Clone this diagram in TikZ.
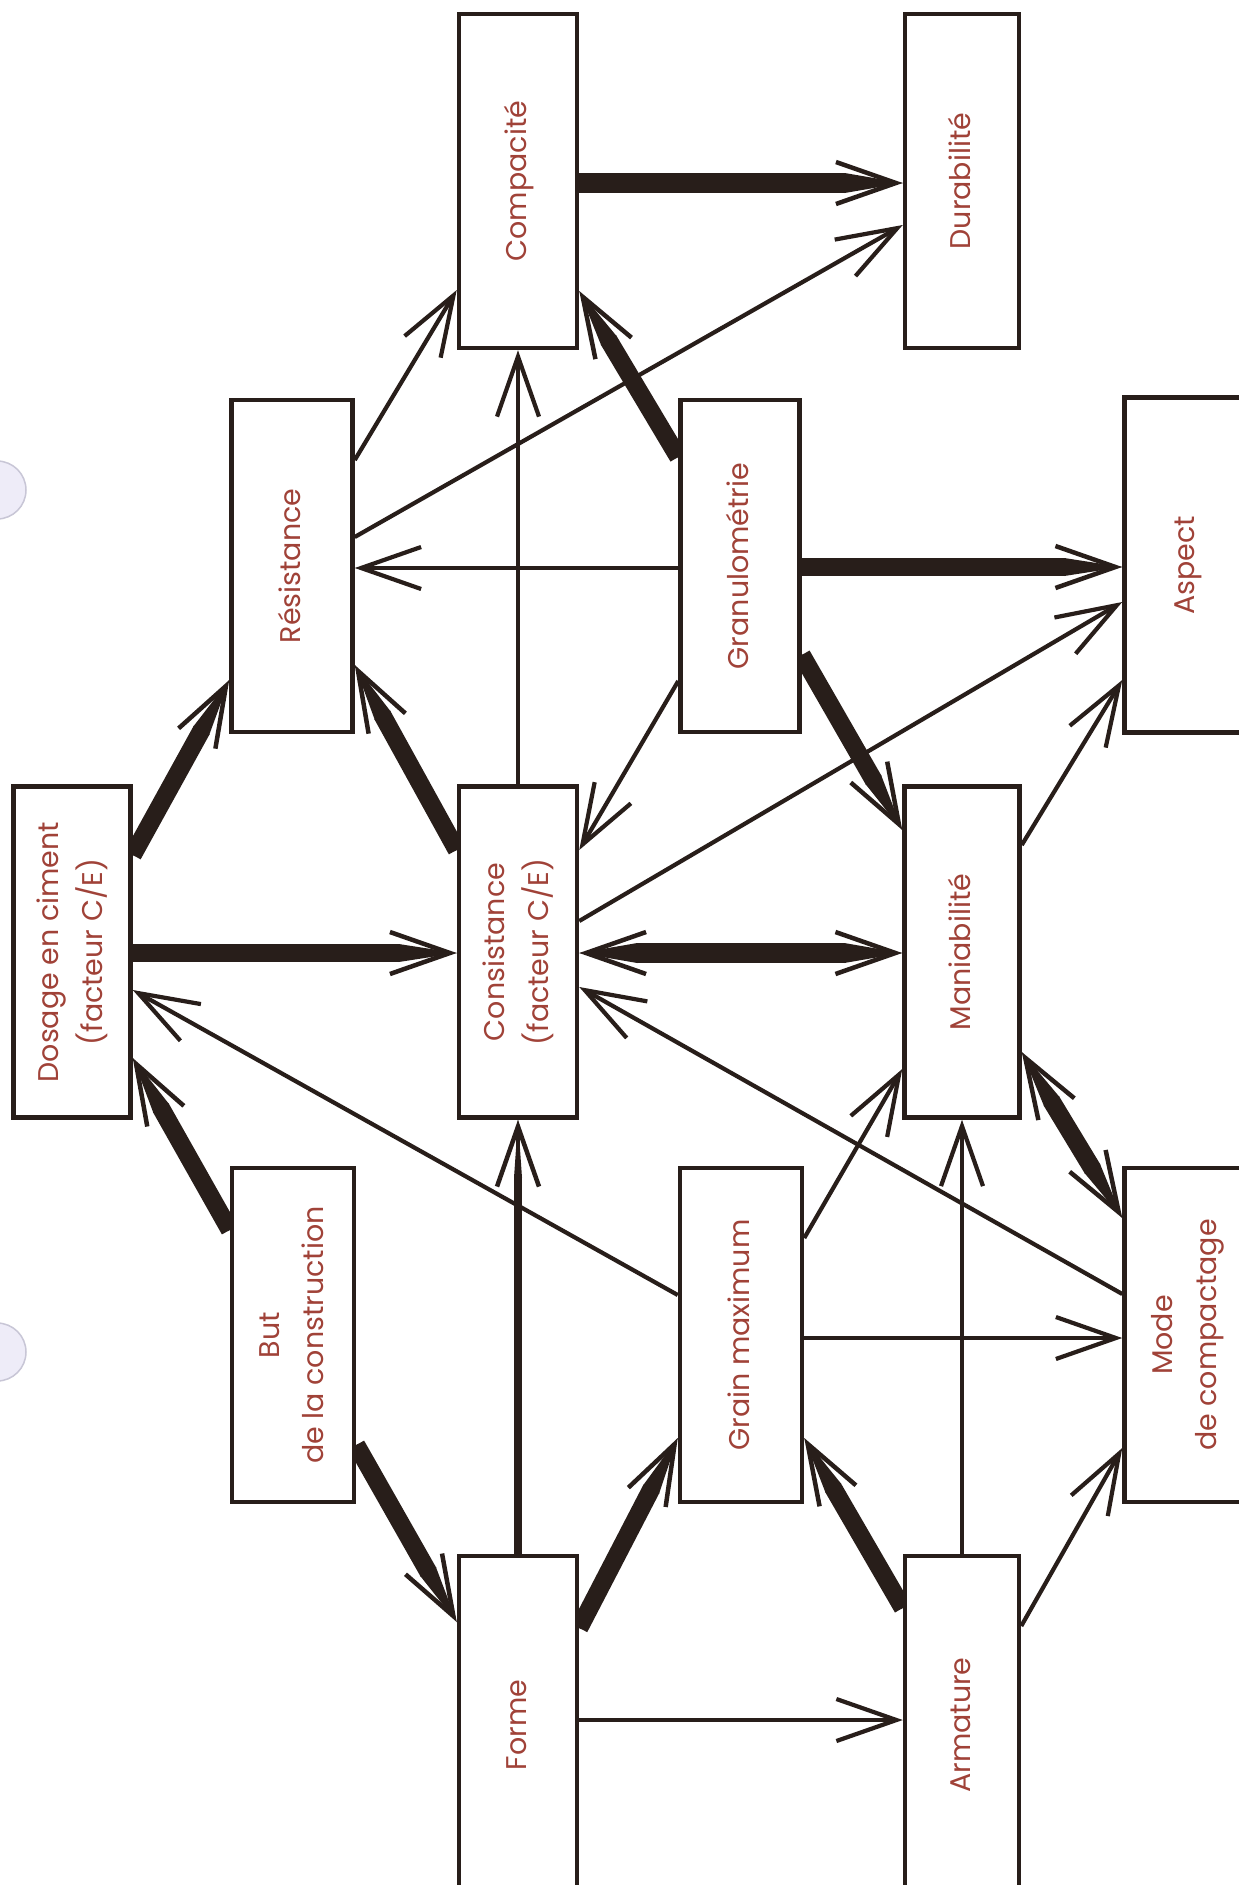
\documentclass[tikz,border=0pt]{standalone}
\usepackage{fontspec}
\setmainfont{Poppins}
\usepackage{graphicx}
\usetikzlibrary{arrows.meta,calc}
\definecolor{lc}{RGB}{40,30,26}
\definecolor{tc}{RGB}{160,66,56}
\definecolor{holefill}{RGB}{238,236,248}
\definecolor{holeline}{RGB}{200,198,214}
\pgfdeclarelayer{bg}
\pgfsetlayers{bg,main}
\newcommand{\lbl}[1]{\rotatebox{90}{\begin{tabular}{@{}c@{}}#1\end{tabular}}}
\tikzset{
  box/.style={draw=lc, line width=4.5pt, fill=white, inner sep=0pt, text=tc,
    font=\fontsize{28.5}{44}\selectfont},
  thinarr/.style={draw=lc, line width=4.2pt, -{Straight Barb[length=60pt 0 0, width=42pt 0 0]}},
  barbs/.style={draw=lc, line width=4.5pt, -{Straight Barb[length=60pt 0 0, width=42pt 0 0]}},
  barbsbi/.style={draw=lc, line width=4.5pt, {Straight Barb[length=60pt 0 0, width=42pt 0 0]}-{Straight Barb[length=60pt 0 0, width=42pt 0 0]}},
  shaft/.style={draw=lc, line width=#1},
}
% taper at end #2 of a line coming from #1, half width #3
\newcommand{\taper}[3]{%
  \fill[lc] (#2) -- ($(#2)!58pt!(#1)!#3!90:(#1)$) -- ($(#2)!58pt!(#1)!#3!-90:(#1)$) -- cycle;}
\newcommand{\thickarr}[3][18pt]{%
  \draw[shaft=#1, shorten >=57pt] (#2) -- (#3);
  \pgfmathsetmacro{\hw}{0.5*#1}%
  \taper{#2}{#3}{\hw pt}
  \draw[barbs] (#2) -- (#3);}
\newcommand{\dblarr}[3][20pt]{%
  \draw[shaft=#1, shorten >=57pt, shorten <=57pt] (#2) -- (#3);
  \pgfmathsetmacro{\hw}{0.5*#1}%
  \taper{#2}{#3}{\hw pt}
  \taper{#3}{#2}{\hw pt}
  \draw[barbsbi] (#2) -- (#3);}
\begin{document}
\begin{tikzpicture}[x=1pt, y=-1pt]
\useasboundingbox (0,0) rectangle (1239,1885);
% nodes
\node[box, minimum width=117pt, minimum height=331pt] (dos) at (72,952) {\lbl{Dosage en ciment\\(facteur C/E)}};
\node[box, minimum width=121pt, minimum height=332pt] (res) at (292,566) {\lbl{Résistance}};
\node[box, minimum width=118pt, minimum height=334pt] (com) at (518,181) {\lbl{Compacité}};
\node[box, minimum width=114pt, minimum height=334pt] (dur) at (962,181) {\lbl{Durabilité}};
\node[box, minimum width=119pt, minimum height=332pt] (gra) at (740,566) {\lbl{Granulométrie}};
\node[box, minimum width=123pt, minimum height=335pt] (asp) at (1186,565) {\lbl{Aspect}};
\node[box, minimum width=118pt, minimum height=331pt] (con) at (518,952) {\lbl{Consistance\\(facteur C/E)}};
\node[box, minimum width=115pt, minimum height=331pt] (man) at (962,952) {\lbl{Maniabilité}};
\node[box, minimum width=122pt, minimum height=334pt] (but) at (293,1335) {\lbl{But\\de la construction}};
\node[box, minimum width=122pt, minimum height=334pt] (gmx) at (741,1335) {\lbl{Grain maximum}};
\node[box, minimum width=123pt, minimum height=334pt] (mod) at (1186,1335) {\lbl{Mode\\de compactage}};
\node[box, minimum width=118pt, minimum height=338pt] (frm) at (518,1725) {\lbl{Forme}};
\node[box, minimum width=114pt, minimum height=338pt] (arm) at (962,1725) {\lbl{Armature}};
% connector end points on the box edges
\coordinate (dosR1) at (dos.east |- 0,855);
\coordinate (dosR2) at (dos.east |- 0,953);
\coordinate (dosR3) at (dos.east |- 0,990);
\coordinate (dosR4) at (dos.east |- 0,1058);
\coordinate (resL1) at (res.west |- 0,680);
\coordinate (resR1) at (res.east |- 0,460);
\coordinate (resR2) at (res.east |- 0,537);
\coordinate (resR3) at (res.east |- 0,568);
\coordinate (resR4) at (res.east |- 0,665);
\coordinate (comL1) at (com.west |- 0,290);
\coordinate (comR1) at (com.east |- 0,183);
\coordinate (comR2) at (com.east |- 0,291);
\coordinate (durL1) at (dur.west |- 0,183);
\coordinate (durL2) at (dur.west |- 0,225);
\coordinate (graL1) at (gra.west |- 0,457);
\coordinate (graL2) at (gra.west |- 0,568);
\coordinate (graL3) at (gra.west |- 0,681);
\coordinate (graR1) at (gra.east |- 0,567);
\coordinate (graR2) at (gra.east |- 0,655);
\coordinate (aspL1) at (asp.west |- 0,567);
\coordinate (aspL2) at (asp.west |- 0,602);
\coordinate (aspL3) at (asp.west |- 0,680);
\coordinate (conL1) at (con.west |- 0,850);
\coordinate (conL2) at (con.west |- 0,953);
\coordinate (conR1) at (con.east |- 0,850);
\coordinate (conR2) at (con.east |- 0,921);
\coordinate (conR3) at (con.east |- 0,953);
\coordinate (conR4) at (con.east |- 0,987);
\coordinate (manL1) at (man.west |- 0,830);
\coordinate (manL2) at (man.west |- 0,953);
\coordinate (manL3) at (man.west |- 0,1069);
\coordinate (manR1) at (man.east |- 0,845);
\coordinate (manR2) at (man.east |- 0,1052);
\coordinate (butL1) at (but.west |- 0,1230);
\coordinate (butR1) at (but.east |- 0,1445);
\coordinate (gmxL1) at (gmx.west |- 0,1295);
\coordinate (gmxL2) at (gmx.west |- 0,1438);
\coordinate (gmxR1) at (gmx.east |- 0,1238);
\coordinate (gmxR2) at (gmx.east |- 0,1338);
\coordinate (gmxR3) at (gmx.east |- 0,1438);
\coordinate (modL1) at (mod.west |- 0,1218);
\coordinate (modL2) at (mod.west |- 0,1294);
\coordinate (modL3) at (mod.west |- 0,1338);
\coordinate (modL4) at (mod.west |- 0,1448);
\coordinate (frmL1) at (frm.west |- 0,1622);
\coordinate (frmR1) at (frm.east |- 0,1628);
\coordinate (frmR2) at (frm.east |- 0,1720);
\coordinate (armL1) at (arm.west |- 0,1608);
\coordinate (armL2) at (arm.west |- 0,1720);
\coordinate (armR1) at (arm.east |- 0,1626);
\begin{pgfonlayer}{bg}
\fill[white] (0,0) rectangle (1239,1885);
% punch holes
\fill[holefill, draw=holeline, line width=1.5pt] (-3,490) circle (29);
\fill[holefill, draw=holeline, line width=1.5pt] (-3,1352) circle (29);
% thick arrows
\thickarr{dosR1}{resL1}
\thickarr{dosR2}{conL2}
\thickarr{butL1}{dosR4}
\thickarr{butR1}{frmL1}
\thickarr{frmR1}{gmxL2}
\thickarr{armL1}{gmxR3}
\thickarr{conL1}{resR4}
\thickarr[20pt]{comR1}{durL1}
\thickarr{graL1}{comR2}
\thickarr{graR1}{aspL1}
\thickarr{graR2}{manL1}
\thickarr[8pt]{frm.north}{con.south}
% double thick arrows
\dblarr{conR3}{manL2}
\dblarr[18pt]{manR2}{modL1}
% thin arrows
\draw[thinarr] (gmxL1) -- (dosR3);
\draw[thinarr] (frmR2) -- (armL2);
\draw[thinarr] (armR1) -- (modL4);
\draw[thinarr] (gmxR2) -- (modL3);
\draw[thinarr] (arm.north) -- (man.south);
\draw[thinarr] (gmxR1) -- (manL3);
\draw[thinarr] (modL2) -- (conR4);
\draw[thinarr] (con.north) -- (com.south);
\draw[thinarr] (resR1) -- (comL1);
\draw[thinarr] (resR2) -- (durL2);
\draw[thinarr] (graL2) -- (resR3);
\draw[thinarr] (graL3) -- (conR1);
\draw[thinarr] (conR2) -- (aspL2);
\draw[thinarr] (manR1) -- (aspL3);
\end{pgfonlayer}
\end{tikzpicture}
\end{document}
